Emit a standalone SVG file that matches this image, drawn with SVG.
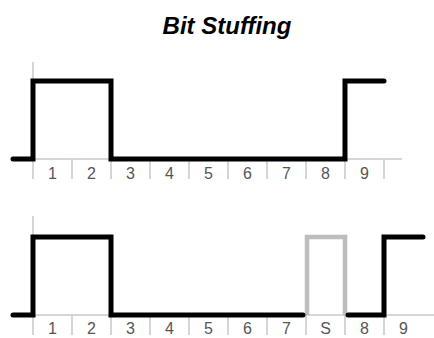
<svg xmlns="http://www.w3.org/2000/svg" width="434" height="338" viewBox="0 0 434 338">
<style>
.grid{stroke:#c8c8c8;stroke-width:1.5;fill:none}
.sig{stroke:#000;stroke-width:5;fill:none;stroke-linejoin:miter;stroke-linecap:round}
.stuff{stroke:#bdbdbd;stroke-width:4.5;fill:none;stroke-linejoin:miter}
.lbl{font-family:"Liberation Sans",Arial,sans-serif;font-size:16px;fill:#555;text-anchor:middle}
.title{font-family:"Liberation Sans",Arial,sans-serif;font-size:24px;font-weight:bold;font-style:italic;fill:#000;text-anchor:middle}
</style>
<rect width="434" height="338" fill="#fff"/>
<text class="title" x="227" y="34">Bit Stuffing</text>
<g id="top">
<g class="grid">
<line x1="33" y1="62" x2="33" y2="179"/>
<line x1="33" y1="159" x2="402" y2="159"/>
<path d="M72 159V179M111 159V179M150 159V179M189 159V179M228 159V179M267 159V179M306 159V179M345 159V179M384 159V179"/>
</g>
<g class="lbl">
<text x="52.5" y="178.5">1</text><text x="91.5" y="178.5">2</text><text x="130.5" y="178.5">3</text><text x="169.5" y="178.5">4</text><text x="208.5" y="178.5">5</text><text x="247.5" y="178.5">6</text><text x="286.5" y="178.5">7</text><text x="325.5" y="178.5">8</text><text x="364.5" y="178.5">9</text>
</g>
<path class="sig" d="M13 159H33V81H111V159H345V81H384"/>
</g>
<g id="bottom">
<g class="grid">
<line x1="33" y1="216" x2="33" y2="335"/>
<line x1="33" y1="315" x2="434" y2="315"/>
<path d="M72 315V335M111 315V335M150 315V335M189 315V335M228 315V335M267 315V335M306 315V335M345 315V335M384 315V335"/>
</g>
<g class="lbl">
<text x="52.5" y="334">1</text><text x="91.5" y="334">2</text><text x="130.5" y="334">3</text><text x="169.5" y="334">4</text><text x="208.5" y="334">5</text><text x="247.5" y="334">6</text><text x="286.5" y="334">7</text><text x="325.5" y="334">S</text><text x="364.5" y="334">8</text><text x="403.5" y="334">9</text>
</g>
<path class="stuff" d="M307 315V237H345V315"/>
<path class="sig" d="M13 315H33V237H111V315H303"/>
<path class="sig" d="M348 315H384V237H423"/>
</g>
</svg>
